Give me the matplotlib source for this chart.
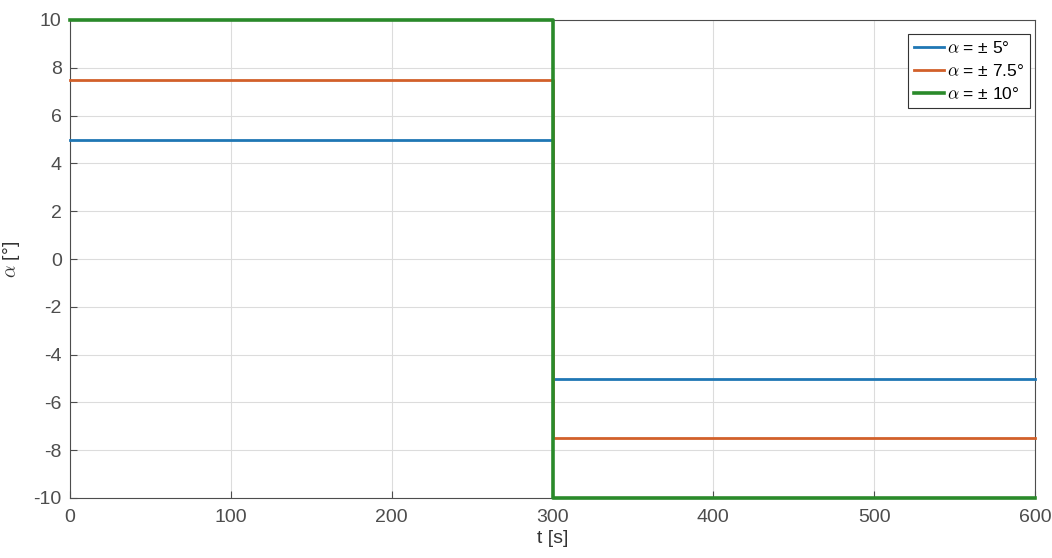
import matplotlib
matplotlib.use('Agg')
import matplotlib.pyplot as plt

# step signals: +amp until t=300 s, then -amp
t = [0, 300, 300, 600]
alpha_5 = [5, 5, -5, -5]
alpha_75 = [7.5, 7.5, -7.5, -7.5]
alpha_10 = [10, 10, -10, -10]
labels = [r'$\alpha$ = ± 5°', r'$\alpha$ = ± 7.5°', r'$\alpha$ = ± 10°']
colors = ['#1f77b4', '#D2602A', '#2A8A2A']
widths = [2.0, 2.0, 2.6]

plt.rcParams['font.family'] = ['Liberation Sans', 'DejaVu Sans']
plt.rcParams['mathtext.fontset'] = 'cm'
plt.rcParams['axes.unicode_minus'] = False

fig = plt.figure(figsize=(10.52, 5.58), dpi=100)
ax = fig.add_axes([70 / 1052, 1 - 498 / 558, 965 / 1052, 478 / 558])

for y, lab, c, w in zip([alpha_5, alpha_75, alpha_10], labels, colors, widths):
    ax.plot(t, y, color=c, linewidth=w, label=lab, clip_on=False, zorder=3)

ax.set_xlim(0, 600)
ax.set_ylim(-10, 10)
ax.set_xticks(range(0, 601, 100))
ax.set_yticks(range(-10, 11, 2))
ax.grid(True, color='#dcdcdc', linewidth=0.8)
ax.tick_params(direction='in', labelsize=14, colors='#4d4d4d', length=5, pad=6)
ax.tick_params(axis='x', pad=8)
for s in ax.spines.values():
    s.set_color('#4d4d4d')
    s.set_linewidth(0.8)

ax.set_xlabel('t [s]', fontsize=14, color='#333333', labelpad=3)
ax.set_ylabel(r'$\alpha$ [°]', fontsize=14, color='#333333', labelpad=8)

leg = ax.legend(loc='upper right', fontsize=12.5, handlelength=1.7, handletextpad=0.15,
                borderpad=0.35, labelspacing=0.4, borderaxespad=0, fancybox=False,
                framealpha=1, edgecolor='#333333', bbox_to_anchor=(0.9948, 0.9707))
leg.get_frame().set_linewidth(0.8)

fig.savefig('out.png', dpi=100)
